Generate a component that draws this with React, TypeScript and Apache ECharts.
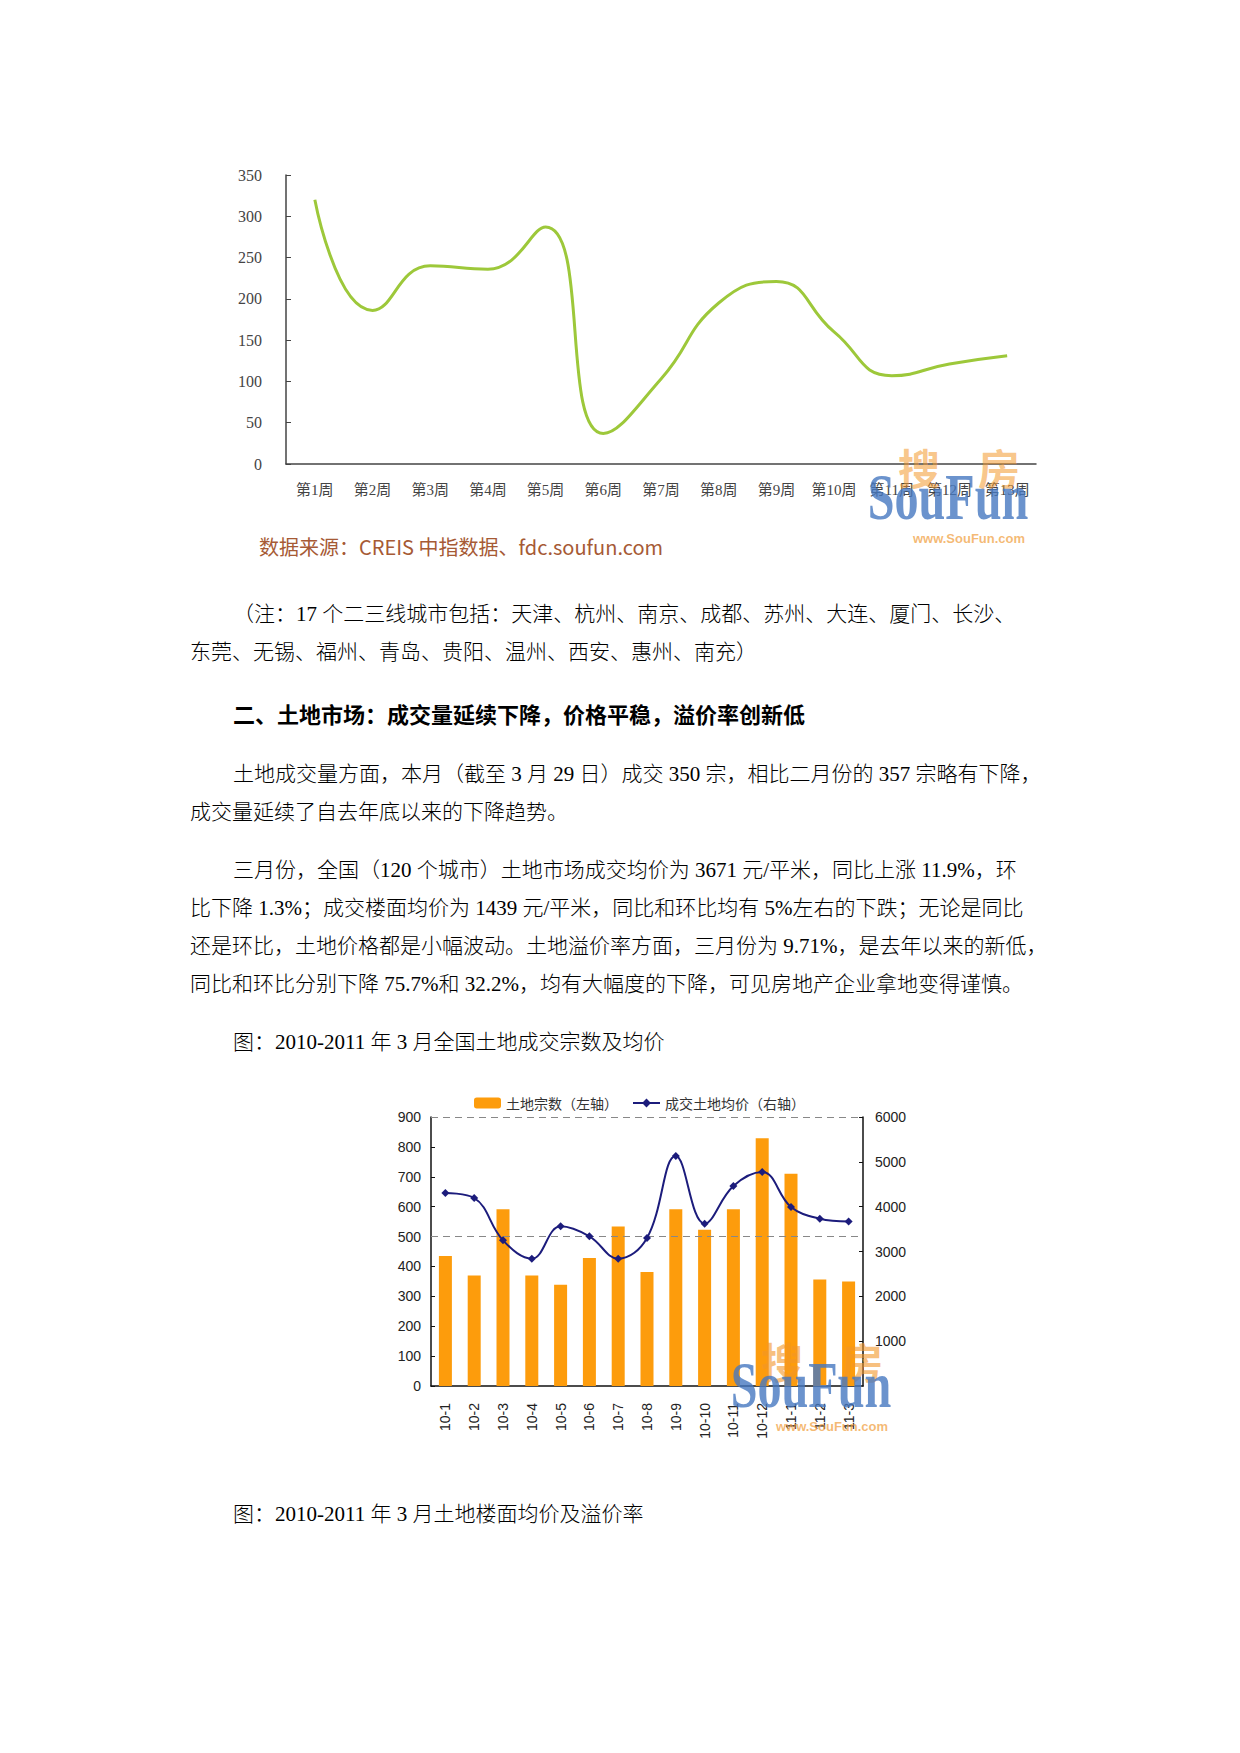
import React, { useEffect, useRef } from 'react';
import * as echarts from 'echarts';

// ---------- data ----------
const weekCategories = ['第1周', '第2周', '第3周', '第4周', '第5周', '第6周', '第7周', '第8周', '第9周', '第10周', '第11周', '第12周', '第13周'];
const weeklyValues = [320, 186, 240, 236, 287, 37, 103, 195, 221, 160, 107, 121, 131];
const weekAxis = { min: 0, max: 350, interval: 50 };

const monthCategories = ['10-1', '10-2', '10-3', '10-4', '10-5', '10-6', '10-7', '10-8', '10-9', '10-10', '10-11', '10-12', '11-1', '11-2', '11-3'];
const landCount = [435, 370, 591, 370, 339, 428, 534, 381, 591, 523, 591, 829, 710, 356, 350];
const landPrice = [4305, 4193, 3249, 2840, 3561, 3338, 2840, 3301, 5130, 3621, 4461, 4773, 3993, 3732, 3671];
const countAxis = { min: 0, max: 900, interval: 100 };
const priceAxis = { min: 0, max: 6000, interval: 1000 };
const refLines = [500, 900];
const seriesNames = ['土地宗数（左轴）', '成交土地均价（右轴）'];

const sourceText = '数据来源：CREIS 中指数据、fdc.soufun.com';
const bodyLines = [
  '（注：17 个二三线城市包括：天津、杭州、南京、成都、苏州、大连、厦门、长沙、',
  '东莞、无锡、福州、青岛、贵阳、温州、西安、惠州、南充）',
  '二、土地市场：成交量延续下降，价格平稳，溢价率创新低',
  '土地成交量方面，本月（截至 3 月 29 日）成交 350 宗，相比二月份的 357 宗略有下降，',
  '成交量延续了自去年底以来的下降趋势。',
  '三月份，全国（120 个城市）土地市场成交均价为 3671 元/平米，同比上涨 11.9%，环',
  '比下降 1.3%；成交楼面均价为 1439 元/平米，同比和环比均有 5%左右的下跌；无论是同比',
  '还是环比，土地价格都是小幅波动。土地溢价率方面，三月份为 9.71%，是去年以来的新低，',
  '同比和环比分别下降 75.7%和 32.2%，均有大幅度的下降，可见房地产企业拿地变得谨慎。',
  '图：2010-2011 年 3 月全国土地成交宗数及均价',
  '图：2010-2011 年 3 月土地楼面均价及溢价率',
];

const SERIF = "'Liberation Serif', 'Noto Sans CJK SC', serif";
const SANS = "'Liberation Sans', 'Noto Sans CJK SC', sans-serif";
const CJK = "'Noto Sans CJK SC', sans-serif";

function logo(cx: number, cy: number, cjkDy: number, cjkAlpha: number) {
  const orange = `rgba(242,150,40,${cjkAlpha})`;
  return {
    type: 'group',
    x: cx,
    y: cy,
    z: 100,
    children: [
      { type: 'text', x: -29, y: cjkDy, z: 100, style: { text: '搜', fontSize: 42, fontFamily: CJK, fontWeight: 'bold', fill: orange, align: 'center', verticalAlign: 'middle' } },
      { type: 'text', x: 51, y: cjkDy, z: 100, style: { text: '房', fontSize: 42, fontFamily: CJK, fontWeight: 'bold', fill: orange, align: 'center', verticalAlign: 'middle' } },
      { type: 'text', x: 0, y: 0, scaleX: 0.73, z: 101, style: { text: 'SouFun', fontSize: 66, fontFamily: "'Liberation Serif', serif", fontWeight: 'bold', fill: 'rgba(70,120,192,0.8)', align: 'center', verticalAlign: 'middle' } },
      { type: 'text', x: 21, y: 41, z: 102, style: { text: 'www.SouFun.com', fontSize: 13, fontFamily: "'Liberation Sans', sans-serif", fontWeight: 'bold', fill: 'rgba(240,155,55,0.7)', align: 'center', verticalAlign: 'middle' } },
    ],
  };
}

export default function App() {
  const ref = useRef<HTMLDivElement>(null);
  useEffect(() => {
    document.body.style.margin = '0';
    if (!ref.current) return;
    const chart = echarts.init(ref.current, undefined, { renderer: 'svg' });

    const linePos = [
      [233, 614], [190, 652], [233, 715], [233, 774], [190, 812],
      [233, 870], [190, 908], [190, 946], [190, 984], [233, 1042], [233, 1514],
    ];
    const textEls = bodyLines.map((t, i) => ({
      type: 'text',
      x: linePos[i][0],
      y: linePos[i][1],
      style: {
        text: t,
        fontSize: i === 2 ? 22 : 21,
        fontWeight: i === 2 ? 'bold' : 300,
        fontFamily: SERIF,
        fill: '#000',
        verticalAlign: 'middle',
      },
    }));

    const option: any = {
      animation: false,
      backgroundColor: '#fff',
      grid: [
        { left: 286, top: 175, width: 750, height: 289 },
        { left: 431, top: 1117, width: 432, height: 269 },
      ],
      legend: {
        data: seriesNames,
        left: 470,
        top: 1093,
        padding: [3, 4],
        backgroundColor: '#fff',
        itemWidth: 27,
        itemHeight: 11,
        itemGap: 14,
        textStyle: { fontSize: 14, fontFamily: CJK, color: '#333' },
      },
      xAxis: [
        {
          type: 'category',
          gridIndex: 0,
          data: weekCategories,
          boundaryGap: true,
          axisLine: { lineStyle: { color: '#444', width: 1.5 } },
          axisTick: { inside: true, length: 7, lineStyle: { color: '#444' } },
          axisLabel: { margin: 18, fontSize: 15, fontFamily: SERIF, color: '#444', interval: 0 },
        },
        {
          type: 'category',
          gridIndex: 1,
          data: monthCategories,
          boundaryGap: true,
          axisLine: { lineStyle: { color: '#111', width: 1.5 } },
          axisTick: { inside: true, length: 5, lineStyle: { color: '#111' } },
          axisLabel: { rotate: 90, margin: 17, fontSize: 14, fontFamily: SANS, color: '#222', interval: 0 },
        },
      ],
      yAxis: [
        {
          type: 'value',
          gridIndex: 0,
          min: weekAxis.min,
          max: weekAxis.max,
          interval: weekAxis.interval,
          axisLine: { show: true, lineStyle: { color: '#444', width: 1.5 } },
          axisTick: { show: true, inside: true, length: 5, lineStyle: { color: '#444' } },
          splitLine: { show: false },
          axisLabel: { margin: 24, fontSize: 16, fontFamily: SERIF, color: '#444' },
        },
        {
          type: 'value',
          gridIndex: 1,
          position: 'left',
          min: countAxis.min,
          max: countAxis.max,
          interval: countAxis.interval,
          axisLine: { show: true, lineStyle: { color: '#111', width: 1.5 } },
          axisTick: { show: true, inside: true, length: 4, lineStyle: { color: '#111' } },
          splitLine: { show: false },
          axisLabel: { margin: 10, fontSize: 14, fontFamily: SANS, color: '#222' },
        },
        {
          type: 'value',
          gridIndex: 1,
          position: 'right',
          min: priceAxis.min,
          max: priceAxis.max,
          interval: priceAxis.interval,
          axisLine: { show: true, lineStyle: { color: '#111', width: 1.5 } },
          axisTick: { show: true, inside: true, length: 4, lineStyle: { color: '#111' } },
          splitLine: { show: false },
          axisLabel: { margin: 12, fontSize: 14, fontFamily: SANS, color: '#222', showMinLabel: false, formatter: (v: number) => String(v) },
        },
      ],
      series: [
        {
          type: 'line',
          xAxisIndex: 0,
          yAxisIndex: 0,
          data: weeklyValues,
          smooth: 0.5,
          symbol: 'none',
          lineStyle: { color: '#9dc83a', width: 3 },
        },
        {
          name: seriesNames[0],
          type: 'bar',
          xAxisIndex: 1,
          yAxisIndex: 1,
          data: landCount,
          barWidth: 13,
          itemStyle: { color: '#fd9c0c' },
          markLine: {
            silent: true,
            symbol: 'none',
            label: { show: false },
            lineStyle: { color: '#888', type: [7, 5], width: 1 },
            data: refLines.map((v) => ({ yAxis: v })),
          },
        },
        {
          name: seriesNames[1],
          type: 'line',
          xAxisIndex: 1,
          yAxisIndex: 2,
          data: landPrice,
          smooth: 0.4,
          symbol: 'diamond',
          symbolSize: 8,
          itemStyle: { color: '#1c1c7c' },
          lineStyle: { color: '#1c1c7c', width: 2 },
          z: 5,
        },
      ],
      graphic: [
        {
          type: 'text',
          x: 259,
          y: 546,
          style: { text: sourceText, fontSize: 20, fontFamily: CJK, fill: '#a65a35', verticalAlign: 'middle' },
        },
        ...textEls,
        logo(948, 497, -31, 0.55),
        logo(811, 1385, -25, 0.6),
      ],
    };
    chart.setOption(option);
    return () => chart.dispose();
  }, []);
  return <div ref={ref} style={{ width: 1240, height: 1753 }} />;
}
